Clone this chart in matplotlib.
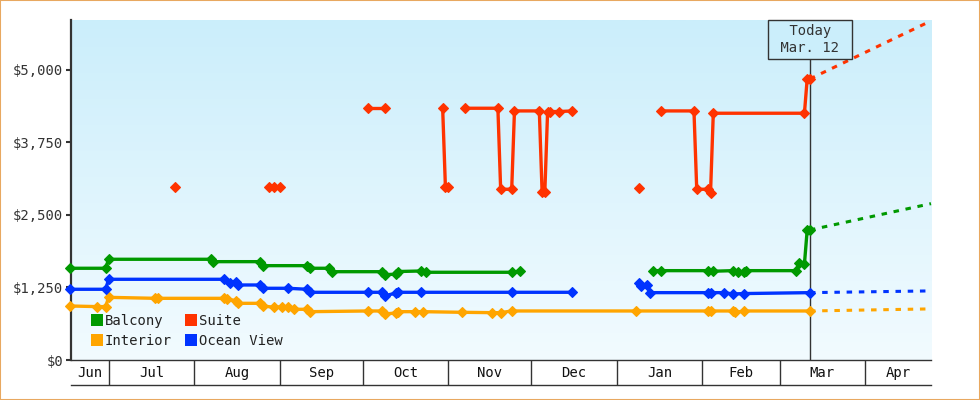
import matplotlib
matplotlib.use("Agg")
import matplotlib.pyplot as plt
from matplotlib.lines import Line2D
from matplotlib.patches import Rectangle
import numpy as np
import pandas as pd

plt.rcParams['font.family'] = ['DejaVu Sans Mono', 'DejaVu Sans']

# ---- data -------------------------------------------------------------
X_START = "2018-06-17 10:00"
X_END = "2019-04-24 20:00"
TODAY = "2019-03-12"
TODAY_LABEL = " Today \n Mar. 12 "

Y_TICKS = [0, 1250, 2500, 3750, 5000]
Y_MAX = 5860

MONTH_STARTS = pd.date_range("2018-06-01", "2019-05-01", freq="MS")

# None marks a gap in the price history
balcony_dates = ["2018-06-17", "2018-06-30", "2018-07-01", "2018-08-07", "2018-08-08",
                 "2018-08-25", "2018-08-26", "2018-09-11", "2018-09-12", "2018-09-19",
                 "2018-09-20", "2018-10-08", "2018-10-09", "2018-10-13", "2018-10-14",
                 "2018-10-22", "2018-10-24", "2018-11-24", "2018-11-27", None,
                 "2019-01-14", "2019-01-17", "2019-02-03", "2019-02-05", "2019-02-12",
                 "2019-02-14", "2019-02-16", "2019-02-17", "2019-03-07", "2019-03-08",
                 "2019-03-10", "2019-03-11", "2019-03-12"]
balcony_prices = [1581, 1581, 1736, 1736, 1695,
                  1695, 1626, 1626, 1581, 1581,
                  1522, 1522, 1470, 1480, 1525,
                  1534, 1512, 1512, 1534, None,
                  1540, 1540, 1540, 1530, 1540,
                  1525, 1512, 1540, 1540, 1667,
                  1655, 2241, 2241]

ocean_dates = ["2018-06-17", "2018-06-30", "2018-07-01", "2018-08-12", "2018-08-14",
               "2018-08-16", "2018-08-17", "2018-08-25", "2018-08-26", "2018-09-04",
               "2018-09-11", "2018-09-12", "2018-10-03", "2018-10-08", "2018-10-09",
               "2018-10-13", "2018-10-14", "2018-10-22", "2018-11-24", "2018-12-16", None,
               "2019-01-09", "2019-01-10", "2019-01-12", "2019-01-13", "2019-02-03",
               "2019-02-04", "2019-02-09", "2019-02-12", "2019-02-16", "2019-03-12"]
ocean_prices = [1219, 1219, 1391, 1391, 1333,
                1350, 1293, 1293, 1236, 1236,
                1219, 1167, 1167, 1167, 1109,
                1150, 1167, 1167, 1167, 1167, None,
                1322, 1282, 1293, 1161, 1161,
                1161, 1161, 1138, 1145, 1161]

interior_dates = ["2018-06-17", "2018-06-27", "2018-06-30", "2018-07-01", "2018-07-18",
                  "2018-07-19", "2018-08-12", "2018-08-13", "2018-08-16", "2018-08-17",
                  "2018-08-25", "2018-08-26", "2018-08-30", "2018-09-02", "2018-09-04",
                  "2018-09-06", "2018-09-11", "2018-09-12", "2018-10-03", "2018-10-08",
                  "2018-10-09", "2018-10-13", "2018-10-14", "2018-10-20", "2018-10-23",
                  "2018-11-06", "2018-11-17", "2018-11-20", "2018-11-24", "2019-01-08",
                  "2019-02-03", "2019-02-04", "2019-02-12", "2019-02-13", "2019-02-16",
                  "2019-03-12"]
interior_prices = [931, 920, 920, 1080, 1063,
                   1063, 1063, 1050, 1023, 977,
                   977, 931, 908, 920, 908,
                   874, 874, 833, 845, 845,
                   793, 810, 833, 833, 833,
                   822, 816, 816, 845, 845,
                   845, 845, 845, 820, 845,
                   845]

suite_dates = ["2018-07-25", None,
               "2018-08-28", "2018-08-30", "2018-09-01", None,
               "2018-10-03", "2018-10-09", None,
               "2018-10-30", "2018-10-31", "2018-11-01", None,
               "2018-11-07", "2018-11-19", "2018-11-20", "2018-11-24", "2018-11-25",
               "2018-12-04", "2018-12-05", "2018-12-06", "2018-12-07", "2018-12-08",
               "2018-12-11", "2018-12-16", None,
               "2019-01-09", None,
               "2019-01-17", "2019-01-29", "2019-01-30", "2019-02-03", "2019-02-04",
               "2019-02-05", "2019-03-10", "2019-03-11", "2019-03-12"]
suite_prices = [2989, None,
                2989, 2989, 2989, None,
                4339, 4339, None,
                4339, 2977, 2977, None,
                4339, 4339, 2943, 2943, 4293,
                4293, 2902, 2902, 4282, 4282,
                4282, 4293, None,
                2960, None,
                4293, 4293, 2943, 2943, 2885,
                4253, 4253, 4845, 4845]

# forecast value at the right edge of the chart
forecast_end = {"Suite": 5845, "Balcony": 2695, "Ocean View": 1191, "Interior": 881}

COLORS = {"Balcony": "#009900", "Suite": "#ff3300",
          "Interior": "#ffa500", "Ocean View": "#0033ff"}
SERIES = [("Interior", interior_dates, interior_prices),
          ("Ocean View", ocean_dates, ocean_prices),
          ("Balcony", balcony_dates, balcony_prices),
          ("Suite", suite_dates, suite_prices)]


def segments(dates, prices):
	segs, cur_d, cur_p = [], [], []
	for d, p in zip(dates, prices):
		if d is None:
			segs.append((cur_d, cur_p))
			cur_d, cur_p = [], []
		else:
			cur_d.append(pd.Timestamp(d))
			cur_p.append(p)
	segs.append((cur_d, cur_p))
	return segs


# ---- figure -----------------------------------------------------------
fig = plt.figure(figsize=(9.8, 4.0), dpi=100)
pos = [71/980, 40/400, 860/980, 340/400]

top_c = np.array([203, 238, 251]) / 255
bot_c = np.array([242, 251, 255]) / 255
bg = fig.add_axes(pos, zorder=-1)
grad = np.linspace(0, 1, 256)[:, None, None]
bg.imshow(top_c + (bot_c - top_c) * grad, aspect="auto", extent=[0, 1, 0, 1])
bg.axis("off")

ax = fig.add_axes(pos)
ax.patch.set_alpha(0)

today = pd.Timestamp(TODAY)
x0, x1 = pd.Timestamp(X_START), pd.Timestamp(X_END)

ax.axvline(today, color="#333333", lw=1, zorder=1.5)

for name, dates, prices in SERIES:
	c = COLORS[name]
	for d, p in segments(dates, prices):
		ax.plot(d, p, color=c, lw=2.4, marker="D", ms=5.2, mew=0.8, mec=c,
				solid_joinstyle="round", clip_on=False, zorder=3)
	last = [p for p in prices if p is not None][-1]
	ax.plot([today, x1], [last, forecast_end[name]], color=c, lw=2.2,
			dashes=(1.8, 2.2), clip_on=False, zorder=2.5)

ax.annotate(TODAY_LABEL, xy=(today, Y_MAX), xytext=(0, -3.2), textcoords="offset points",
			ha="center", va="top", fontsize=10, color="#333333", linespacing=1.25,
			bbox=dict(boxstyle="square,pad=0.3", fc=top_c, ec="#333333", lw=1), zorder=4)

ax.set_xlim(x0, x1)
ax.set_ylim(0, Y_MAX)

ax.set_yticks(Y_TICKS, ["${:,}".format(v) for v in Y_TICKS])
ax.tick_params(axis="y", length=3.6, width=1.5, color="#333333", labelsize=10,
			   labelcolor="#333333", pad=2)

# month separators and centred month names
starts = [m for m in MONTH_STARTS if x0 < m < x1]
ax.set_xticks(starts, [""] * len(starts))
mids, names = [], []
for a, b in zip(MONTH_STARTS[:-1], MONTH_STARTS[1:]):
	lo, hi = max(a, x0), min(b, x1)
	if lo < hi:
		mids.append(lo + (hi - lo) / 2)
		names.append(a.strftime("%b"))
ax.set_xticks(mids, names, minor=True)
ax.tick_params(axis="x", which="major", length=18, width=1, color="#333333", direction="out")
ax.tick_params(axis="x", which="minor", length=0, pad=4, labelsize=10, labelcolor="#111111")
ax.plot([0, 1], [-25/340, -25/340], transform=ax.transAxes, color="#333333", lw=1, clip_on=False)

for s in ["top", "right"]:
	ax.spines[s].set_visible(False)
ax.spines["left"].set_linewidth(1.6)
ax.spines["left"].set_color("#333333")
ax.spines["bottom"].set_linewidth(1)
ax.spines["bottom"].set_color("#333333")

handles = [Line2D([], [], ls="none", marker="s", ms=8, mew=0, color=COLORS[n])
		   for n in ["Balcony", "Interior", "Suite", "Ocean View"]]
ax.legend(handles, ["Balcony", "Interior", "Suite", "Ocean View"], ncol=2,
		  loc="lower left", bbox_to_anchor=(0.024, 0.036), frameon=False, fontsize=10,
		  handlelength=0.8, handletextpad=0.15, columnspacing=1.0, labelspacing=0.4,
		  borderpad=0, borderaxespad=0, labelcolor="#222222")

fig.patches.append(Rectangle((0, 0), 1, 1, transform=fig.transFigure, fill=False,
							 edgecolor="#e8a860", lw=1.5))

plt.savefig("out.png", dpi=100)
